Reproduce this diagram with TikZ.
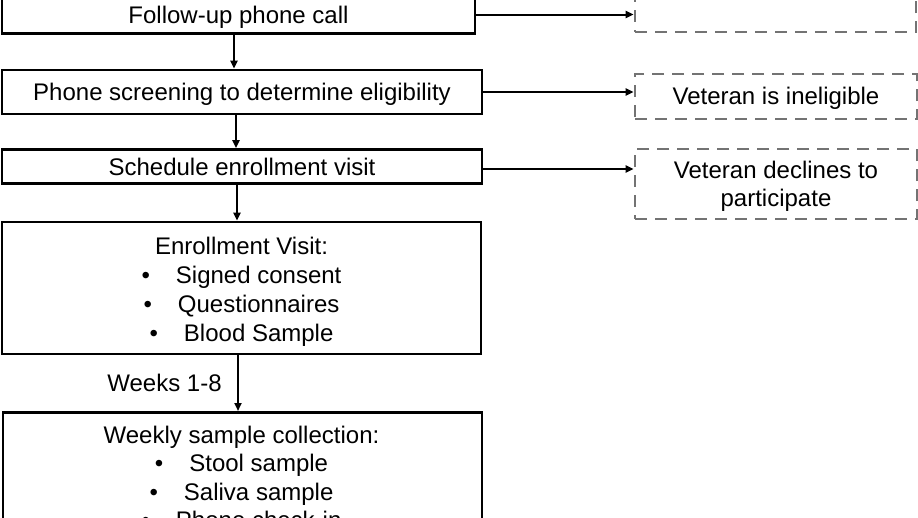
\documentclass[tikz,border=0pt]{standalone}
\usepackage{fontspec}
\setmainfont{Liberation Sans}
\usetikzlibrary{arrows.meta}
\definecolor{dgray}{RGB}{115,115,115}
\begin{document}
\begin{tikzpicture}[x=1pt,y=-1pt,
  box/.style={draw=black, line width=2.8pt, rectangle, inner sep=0pt, align=center,
    font=\fontsize{24}{29.1}\selectfont, text=black, text height=17.2pt, text depth=0pt},
  dbox/.style={draw=dgray, line width=2.8pt, dash pattern=on 12pt off 8pt, rectangle,
    inner sep=0pt, align=center, font=\fontsize{24}{29.1}\selectfont, text=black,
    text height=17.2pt, text depth=0pt},
  arr/.style={draw=black, line width=2pt, -{Triangle[length=8pt,width=7pt]}},
  lbl/.style={font=\fontsize{24}{29.1}\selectfont, text=black, inner sep=0pt, align=center}]
\useasboundingbox (0,0) rectangle (918,517);
\clip (0,0) rectangle (918,517);
\fill[white] (0,0) rectangle (918,517);
% left column
\node[box, minimum width=473pt, minimum height=38pt] (b1) at (238.5,14.5) {Follow-up phone call};
\node[box, minimum width=480pt, minimum height=44pt] (b2) at (242,92) {Phone screening to determine eligibility};
\node[box, minimum width=480pt, minimum height=34pt] (b3) at (242,166.5) {Schedule enrollment visit};
\node[box, minimum width=479pt, minimum height=132pt] (b4) at (241.5,288) {};
\node[lbl, anchor=north] (t4) at (241.5,237) {Enrollment Visit:\\
   \textbullet\hspace{26pt}Signed consent\\
   \textbullet\hspace{26pt}Questionnaires\\
   \textbullet\hspace{26pt}Blood Sample};
\node[box, minimum width=479pt, minimum height=140pt, anchor=north] (b5) at (242.5,411) {};
\node[lbl, anchor=north, font=\fontsize{24}{28.4}\selectfont] (t5) at (241.5,426) {Weekly sample collection:\\
   \textbullet\hspace{26pt}Stool sample\\
   \textbullet\hspace{26pt}Saliva sample\\
   \textbullet\hspace{26pt}Phone check-in};
% right column
\node[dbox, minimum width=281pt, minimum height=60pt] (r1) at (775.5,2) {};
\node[dbox, minimum width=282pt, minimum height=45pt] (r2) at (776,96.5) {};
\node[lbl] (tr2) at (776,98.5) {\vphantom{V}Veteran is ineligible};
\node[dbox, minimum width=282pt, minimum height=70pt] (r3) at (776,184) {};
\node[lbl, anchor=north, font=\fontsize{24}{28}\selectfont] (tr3) at (776,161) {Veteran declines to\\participate};
% label
\node[lbl] (wk) at (164.5,383) {Weeks 1-8};
% vertical connectors
\coordinate (v1) at ([xshift=-4.5pt]b1.south);
\coordinate (v2) at ([xshift=-6pt]b2.south);
\coordinate (v3) at ([xshift=-5pt]b3.south);
\coordinate (v4) at ([xshift=-3.5pt]b4.south);
\draw[arr] (v1) -- (v1 |- b2.north);
\draw[arr] (v2) -- (v2 |- b3.north);
\draw[arr] (v3) -- (v3 |- b4.north);
\draw[arr] (v4) -- (v4 |- b5.north);
% horizontal connectors
\coordinate (h3) at ([yshift=-2.5pt]b3.east);
\draw[arr] (b1.east) -- (b1.east -| r1.west);
\draw[arr] (b2.east) -- (b2.east -| r2.west);
\draw[arr] (h3) -- (h3 -| r3.west);
\end{tikzpicture}
\end{document}
